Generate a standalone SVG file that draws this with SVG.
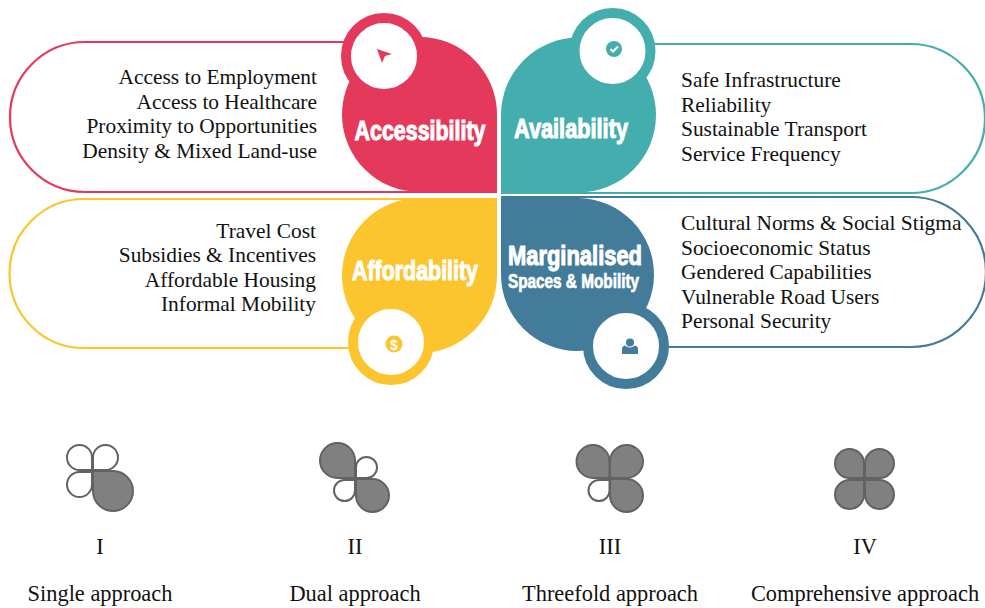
<svg xmlns="http://www.w3.org/2000/svg" width="985" height="608" viewBox="0 0 985 608">
<style>
text{font-family:"Liberation Serif","Times New Roman",serif;fill:#111;font-size:21.4px}
.e{text-anchor:end}.m{text-anchor:middle}
.b{font-size:22.4px}
.t{font-family:"Liberation Sans",Arial,sans-serif;font-weight:700;fill:#fff;stroke:#fff;stroke-width:1.1px}
.l{fill:none;stroke-width:2.2}
.r{fill:#fff;stroke-width:10}
.g{fill:#808080;stroke:#626262;stroke-width:2}
.o{fill:#fff;stroke:#626262;stroke-width:2}
</style>
<g id="connectors">
<path class="l" stroke="#E5395B" d="M350 42H85A75 75 0 0 0 85 192H497"/>
<path class="l" stroke="#44ADAD" d="M645 44H910.500A74.500 74.500 0 0 1 910.500 193H501"/>
<path class="l" stroke="#FCC52D" d="M497 199H84A74.500 74.500 0 0 0 84 348H355"/>
<path class="l" stroke="#437B9A" d="M501 197H911A75 75 0 0 1 911 347H660"/>
</g>
<g id="accessibility">
<path fill="#E5395B" d="M497 192H420A77.500 77.500 0 1 1 497 114.500Z"/>
<circle class="r" cx="384" cy="56" r="38" stroke="#E5395B"/>
<path fill="#E5395B" d="M377 49L392 54L385 56L382 63Z"/>
<text class="t m" x="420" y="139.500" style="font-size:28px" textLength="131" lengthAdjust="spacingAndGlyphs">Accessibility</text>
<text class="e" x="317" y="84">Access to Employment</text>
<text class="e" x="317" y="109">Access to Healthcare</text>
<text class="e" x="317" y="133">Proximity to Opportunities</text>
<text class="e" x="317" y="158">Density &amp; Mixed Land-use</text>
</g>
<g id="availability">
<path fill="#44ADAD" d="M501 192.500V115A77.500 77.500 0 1 1 578.500 192.500Z"/>
<circle class="r" cx="612.500" cy="51" r="38" stroke="#44ADAD"/>
<circle cx="614" cy="49" r="8" fill="#44ADAD"/>
<path d="M610.500 49L613 51.500L618 46.500" fill="none" stroke="#fff" stroke-width="2"/>
<text class="t" x="514" y="138" style="font-size:28px" textLength="114" lengthAdjust="spacingAndGlyphs">Availability</text>
<text x="681" y="87">Safe Infrastructure</text>
<text x="681" y="112">Reliability</text>
<text x="681" y="136">Sustainable Transport</text>
<text x="681" y="161">Service Frequency</text>
</g>
<g id="affordability">
<path fill="#FCC52D" d="M497 198V275A77.500 77.500 0 1 1 419.500 198Z"/>
<circle class="r" cx="391" cy="342" r="38" stroke="#FCC52D"/>
<circle cx="394" cy="344" r="8.500" fill="#FCC52D"/>
<text class="m" x="394" y="349.500" style="fill:#fff;font-family:'Liberation Sans',sans-serif;font-size:14px;font-weight:700">$</text>
<text class="t" x="352" y="280" style="font-size:28px" textLength="126" lengthAdjust="spacingAndGlyphs">Affordability</text>
<text class="e" x="316" y="238">Travel Cost</text>
<text class="e" x="316" y="262">Subsidies &amp; Incentives</text>
<text class="e" x="316" y="287">Affordable Housing</text>
<text class="e" x="316" y="311">Informal Mobility</text>
</g>
<g id="marginalised">
<path fill="#437B9A" d="M501 198H578.500A76.500 76.500 0 1 1 501 274.500Z"/>
<circle class="r" cx="626" cy="346" r="38" stroke="#437B9A"/>
<circle cx="630" cy="342.500" r="4" fill="#437B9A"/>
<path fill="#437B9A" d="M622 354V349Q622 346 625 345.500Q630 349.500 635 345.500Q638 346 638 349V354Z"/>
<text class="t" x="508" y="265" style="font-size:28px" textLength="134" lengthAdjust="spacingAndGlyphs">Marginalised</text>
<text class="t" x="508" y="288" style="font-size:20px;stroke-width:.7px" textLength="131" lengthAdjust="spacingAndGlyphs">Spaces &amp; Mobility</text>
<text x="681" y="230">Cultural Norms &amp; Social Stigma</text>
<text x="681" y="255">Socioeconomic Status</text>
<text x="681" y="279">Gendered Capabilities</text>
<text x="681" y="304">Vulnerable Road Users</text>
<text x="681" y="328">Personal Security</text>
</g>
<g id="single">
<path class="o" d="M92 470H79.500A12.500 12.500 0 1 1 92 457.500Z"/>
<path class="o" d="M93 470H105.500A12.500 12.500 0 1 0 93 457.500Z"/>
<path class="o" d="M92 472H79.500A12.500 12.500 0 1 0 92 484.500Z"/>
<path class="g" d="M93 471H113A20 20 0 1 1 93 491Z"/>
<text class="m b" x="100" y="554">I</text>
<text class="m b" x="100" y="601">Single approach</text>
</g>
<g id="dual">
<path class="g" d="M355 478H337.500A17.500 17.500 0 1 1 355 460.500Z"/>
<path class="o" d="M356 478H366.500A10.500 10.500 0 1 0 356 467.500Z"/>
<path class="o" d="M355 480H344.500A10.500 10.500 0 1 0 355 490.500Z"/>
<path class="g" d="M356 479H372.500A16.500 16.500 0 1 1 356 495.500Z"/>
<text class="m b" x="355" y="554">II</text>
<text class="m b" x="355" y="601">Dual approach</text>
</g>
<g id="threefold">
<path class="g" d="M609.500 478H593A16.500 16.500 0 1 1 609.500 461.500Z"/>
<path class="g" d="M610 478H626.500A16.500 16.500 0 1 0 610 461.500Z"/>
<path class="o" d="M609.500 480H599A10.500 10.500 0 1 0 609.500 490.500Z"/>
<path class="g" d="M610 479H626.500A16.500 16.500 0 1 1 610 495.500Z"/>
<text class="m b" x="610" y="554">III</text>
<text class="m b" x="610" y="601">Threefold approach</text>
</g>
<g id="comprehensive">
<path class="g" d="M864 478H849.500A14.500 14.500 0 1 1 864 463.500Z"/>
<path class="g" d="M865 478H879.500A14.500 14.500 0 1 0 865 463.500Z"/>
<path class="g" d="M864 480H849.500A14.500 14.500 0 1 0 864 494.500Z"/>
<path class="g" d="M865 480H879.500A14.500 14.500 0 1 1 865 494.500Z"/>
<text class="m b" x="865" y="554">IV</text>
<text class="m b" x="865" y="601">Comprehensive approach</text>
</g>
</svg>
